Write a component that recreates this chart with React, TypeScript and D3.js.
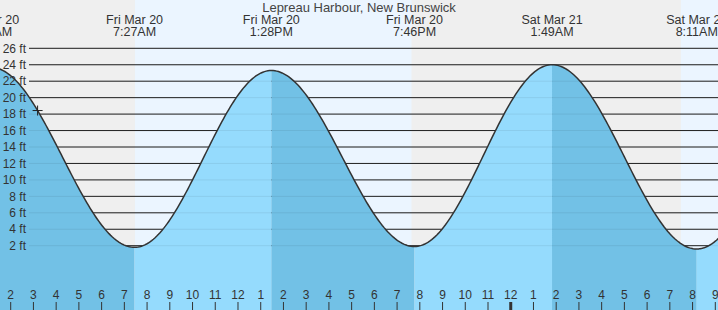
import React, { useEffect } from "react";
import * as d3 from "d3";

const W = 718;
const H = 310;

const title = "Lepreau Harbour, New Brunswick";
// tide extremes (local time) and heights in ft
const tideTimes = [
  "2026-03-20 01:07",
  "2026-03-20 07:27",
  "2026-03-20 13:28",
  "2026-03-20 19:46",
  "2026-03-21 01:49",
  "2026-03-21 08:11",
  "2026-03-21 14:20",
];
const tideHeights = [23.7, 1.8, 23.3, 1.9, 24.0, 1.6, 23.6];
// daylight periods
const sunrise = ["2026-03-20 07:28", "2026-03-21 07:29"];
const sunset = ["2026-03-20 19:38"];
const axisStart = "2026-03-20 02:00";
const axisEnd = "2026-03-21 09:00";
const nowTime = "2026-03-20 03:11";
const yTicks = [2, 4, 6, 8, 10, 12, 14, 16, 18, 20, 22, 24, 26];

const parse = d3.timeParse("%Y-%m-%d %H:%M");
const fmtDay = d3.timeFormat("%a %b %d");
const fmtTime = d3.timeFormat("%-I:%M%p");

export default function App() {
  useEffect(() => {
    document.body.style.margin = "0";
  }, []);

  const times = tideTimes.map((t) => parse(t) as Date);
  const x = d3
    .scaleTime()
    .domain([parse(axisStart) as Date, parse(axisEnd) as Date])
    .range([10.7, 715.3]);
  const y = d3.scaleLinear().domain([2, 26]).range([245.7, 48.3]);

  const heightAt = (t: Date) => {
    const ms = +t;
    for (let i = 0; i < times.length - 1; i++) {
      const a = +times[i], b = +times[i + 1];
      if (ms >= a && ms <= b) {
        const p = (ms - a) / (b - a);
        const h0 = tideHeights[i], h1 = tideHeights[i + 1];
        return h1 + (h0 - h1) * (1 + Math.cos(Math.PI * p)) / 2;
      }
    }
    return tideHeights[tideHeights.length - 1];
  };

  const t0 = x.invert(-2) as Date;
  const t1 = x.invert(W + 2) as Date;

  // segments between extremes
  const segs: { pts: [Date, number][]; rising: boolean }[] = [];
  for (let i = 0; i < times.length - 1; i++) {
    const a = Math.max(+times[i], +t0);
    const b = Math.min(+times[i + 1], +t1);
    if (b <= a) continue;
    const pts: [Date, number][] = [];
    const n = 80;
    for (let k = 0; k <= n; k++) {
      const d = new Date(a + ((b - a) * k) / n);
      pts.push([d, heightAt(d)]);
    }
    segs.push({ pts, rising: tideHeights[i + 1] > tideHeights[i] });
  }

  const area = d3
    .area<[Date, number]>()
    .x((d) => x(d[0]))
    .y0(H)
    .y1((d) => y(d[1]));
  const line = d3
    .line<[Date, number]>()
    .x((d) => x(d[0]))
    .y((d) => y(d[1]));
  const allPts: [Date, number][] = [];
  segs.forEach((s) => allPts.push(...s.pts));

  // background day/night
  const sr = sunrise.map((s) => x(parse(s) as Date));
  const ss = sunset.map((s) => x(parse(s) as Date));
  const dayRects = [
    [sr[0], ss[0]],
    [sr[1], W],
  ];

  const hours = d3.timeHour.range(
    parse(axisStart) as Date,
    d3.timeHour.offset(parse(axisEnd) as Date, 1)
  );

  const now = parse(nowTime) as Date;
  const nx = x(now);
  const ny = y(heightAt(now));

  const font = "'Liberation Sans', Arial, sans-serif";

  return (
    <svg width={W} height={H} style={{ display: "block" }} fontFamily={font}>
      <rect x={0} y={0} width={W} height={H} fill="#efefef" />
      {dayRects.map((r, i) => (
        <rect key={i} x={r[0]} y={0} width={r[1] - r[0]} height={H} fill="#ebf5ff" />
      ))}
      {yTicks.map((v) => (
        <line key={v} x1={29} x2={W} y1={y(v)} y2={y(v)} stroke="#222" strokeWidth={1} />
      ))}
      {segs.map((s, i) => (
        <path key={i} d={area(s.pts) || ""} fill={s.rising ? "#95dbfd" : "#72c1e6"} />
      ))}
      {yTicks.map((v) => (
        <line key={"g" + v} x1={29} x2={W} y1={y(v)} y2={y(v)} stroke="#000" strokeOpacity={0.07} strokeWidth={1} />
      ))}
      <path d={line(allPts) || ""} fill="none" stroke="#333" strokeWidth={1.5} />
      <g stroke="#222" strokeWidth={1}>
        <line x1={nx - 5} x2={nx + 5} y1={ny} y2={ny} />
        <line x1={nx} x2={nx} y1={ny - 5} y2={ny + 5} />
      </g>
      {yTicks.map((v) => (
        <text key={"t" + v} x={26} y={y(v)} dy="0.35em" textAnchor="end" fontSize={12} fill="#333">
          {v} ft
        </text>
      ))}
      {hours.map((h, i) => {
        const hr = h.getHours();
        const lab = hr % 12 === 0 ? 12 : hr % 12;
        return (
          <g key={i}>
            <text x={x(h)} y={299} textAnchor="middle" fontSize={12} fill="#333">
              {lab}
            </text>
            <line x1={x(h)} x2={x(h)} y1={302} y2={H} stroke="#333" strokeWidth={hr === 0 ? 3 : 1} />
          </g>
        );
      })}
      <text x={W / 2} y={12} textAnchor="middle" fontSize={13} fill="#444">
        {title}
      </text>
      {times.map((t, i) => (
        <g key={"e" + i} fontSize={12.5} fill="#333" textAnchor="middle">
          <text x={x(t)} y={24}>{fmtDay(t)}</text>
          <text x={x(t)} y={36}>{fmtTime(t)}</text>
        </g>
      ))}
    </svg>
  );
}
